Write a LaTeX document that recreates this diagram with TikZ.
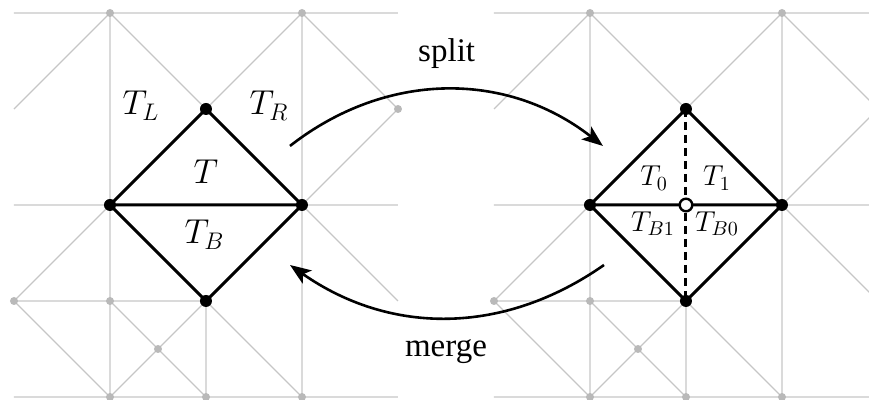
\documentclass[tikz,border=0pt]{standalone}
\usepackage[no-math]{fontspec}
\setmainfont{Liberation Serif}
\usetikzlibrary{arrows.meta}
\tikzset{
  gridline/.style={draw=gray!45, line width=0.6pt},
  bdot/.style={circle, fill=black, inner sep=0pt, minimum size=6pt},
  odot/.style={circle, draw=black, fill=white, line width=1.2pt, inner sep=0pt, minimum size=6.3pt},
  edgeline/.style={line width=1.5pt, line join=round},
  dedge/.style={line width=1.5pt, dash pattern=on 4pt off 2.5pt},
  flow/.style={line width=1.3pt, -{Stealth[length=10.5pt,width=8pt,inset=2.5pt]}},
  biglab/.style={font=\fontsize{16.6}{19}\selectfont, inner sep=0pt},
  smalllab/.style={font=\fontsize{13.6}{16}\selectfont, inner sep=0pt},
  wordlab/.style={font=\fontsize{16.5}{20}\selectfont, inner sep=0pt},
  mesh/.pic={
    \draw[gridline]
      (-2,2) -- (2,2) (-2,0) -- (2,0) (-2,-2) -- (2,-2) (-2,-1) -- (0,-1)
      (-1,2) -- (-1,-2) (1,2) -- (1,-2) (0,-1) -- (0,-2)
      (-2,1) -- (-1,2) -- (0,1) -- (1,2) -- (2,1) -- (1,0) -- (2,-1)
      (-1,0) -- (-2,-1) -- (-1,-2)
      (-1,-1) -- (0,-2) (0,-1) -- (-1,-2) (0,-1) -- (1,-2);
    \foreach \p in {(-1,2),(1,2),(2,1),(-2,-1),(-1,-1),(-0.5,-1.5),(-1,-2),(0,-2),(1,-2)}
      \fill[gray!55] \p circle (2pt);
  }
}
\begin{document}
\begin{tikzpicture}[x=48pt,y=48pt]
\useasboundingbox (-2.1458,-2.03125) rectangle (6.9063,2.1354);
\clip (-2.1458,-2.03125) rectangle (6.9063,2.1354);
\pic at (0,0) {mesh};
\pic at (5,0) {mesh};
% left diamond
\coordinate (LT) at (0,1);
\coordinate (LL) at (-1,0);
\coordinate (LR) at (1,0);
\coordinate (LB) at (0,-1);
\draw[edgeline] (LL) -- (LT) -- (LR) -- (LB) -- cycle (LL) -- (LR);
% right diamond
\coordinate (RT) at (5,1);
\coordinate (RL) at (4,0);
\coordinate (RR) at (6,0);
\coordinate (RB) at (5,-1);
\coordinate (RC) at (5,0);
\draw[edgeline] (RL) -- (RT) -- (RR) -- (RB) -- cycle (RL) -- (RR);
\draw[dedge] (RT) -- (RB);
\foreach \c in {LT,LL,LR,LB,RT,RL,RR,RB}
  \node[bdot] (d\c) at (\c) {};
\node[odot] (dRC) at (RC) {};
% labels
\node[biglab, anchor=base] (tl) at (-0.677,0.9375) {$T_L$};
\node[biglab, anchor=base] (tr) at (0.656,0.9375) {$T_R$};
\node[biglab, anchor=base] (t) at (0,0.226) {$T$};
\node[biglab, anchor=base] (tb) at (-0.015,-0.406) {$T_B$};
\node[smalllab, anchor=base] (t0) at (4.667,0.198) {$T_0$};
\node[smalllab, anchor=base] (t1) at (5.323,0.198) {$T_1$};
\node[smalllab, anchor=base] (tb1) at (4.656,-0.278) {$T_{B1}$};
\node[smalllab, anchor=base] (tb0) at (5.323,-0.278) {$T_{B0}$};
% arrows
\coordinate (s1) at (0.875,0.615);
\coordinate (s2) at (4.135,0.615);
\draw[flow] (s1) to[bend left=38] (s2);
\coordinate (m1) at (4.146,-0.625);
\coordinate (m2) at (0.875,-0.625);
\draw[flow] (m1) to[bend left=35] (m2);
\node[wordlab, anchor=base] (split) at (2.507,1.49) {split};
\node[wordlab, anchor=base] (merge) at (2.5,-1.583) {merge};
\end{tikzpicture}
\end{document}
